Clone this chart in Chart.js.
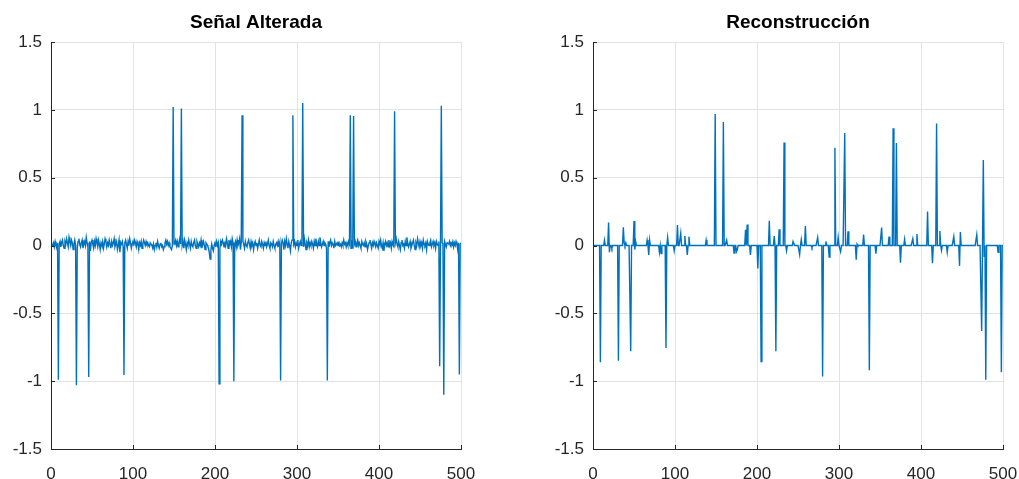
<!DOCTYPE html>
<html><head><meta charset="utf-8">
<script src="https://cdn.jsdelivr.net/npm/chart.js@4.4.1/dist/chart.umd.min.js"></script>
<style>
html,body{margin:0;padding:0;background:#fff;overflow:hidden;width:1019px;height:479px;}
canvas{position:absolute;left:0;top:0;}
</style>
</head><body>
<canvas id="c1" width="1060" height="479"></canvas>
<canvas id="c2" width="1060" height="479"></canvas>
<script>
// ---- data ----
const xTicks = [0, 100, 200, 300, 400, 500];
const yTicks = [1.5, 1, 0.5, 0, -0.5, -1, -1.5];
const yTickLabels = ["1.5", "1", "0.5", "0", "-0.5", "-1", "-1.5"];
const titles = ["Señal Alterada", "Reconstrucción"];

// left: small background noise, sample 1..500
const leftNoise = [
 0.01,0.00,0.02,-0.01,0.03,0.00,-0.02,0.02,0.00,0.01,0.03,-0.01,0.02,0.04,0.00,-0.02,0.03,0.01,0.05,0.02,-0.01,0.06,0.03,0.00,0.04,
 0.02,-0.03,0.01,0.04,0.00,0.00,-0.02,0.03,0.05,0.01,-0.01,0.02,0.04,-0.02,0.01,0.03,0.00,0.06,0.02,-0.01,0.00,0.03,-0.04,0.02,0.04,
 0.01,-0.02,0.03,0.00,0.05,0.02,-0.01,0.04,0.01,-0.03,0.02,0.00,0.03,-0.02,0.01,0.05,0.03,-0.01,0.02,0.00,0.04,0.01,-0.02,0.03,0.00,
 0.02,0.05,-0.01,0.01,0.03,-0.03,0.00,0.04,-0.05,0.02,0.01,0.03,-0.01,0.00,0.02,0.04,0.01,-0.02,0.03,0.00,0.05,0.02,-0.02,0.01,0.03,
 0.00,0.04,0.02,-0.01,0.03,0.01,-0.03,0.02,0.00,0.03,-0.02,0.01,0.04,0.02,0.00,0.03,0.01,0.02,0.00,-0.01,0.02,0.01,0.00,-0.02,0.01,
 -0.03,0.00,0.02,-0.01,0.03,0.00,-0.02,0.01,0.02,-0.01,0.00,-0.03,-0.01,0.02,0.04,0.01,0.03,0.00,0.02,-0.01,-0.02,-0.03,0.00,0.00,0.01,
 0.02,0.04,0.00,0.03,-0.01,0.02,0.05,0.01,0.00,0.00,0.03,-0.02,0.04,0.01,-0.03,0.02,0.00,0.04,0.01,-0.02,0.03,0.00,-0.01,0.02,0.04,
 0.00,-0.02,0.03,0.01,-0.01,0.02,0.00,0.04,-0.02,0.01,0.03,0.00,-0.03,0.02,0.01,0.00,-0.02,-0.05,-0.10,-0.03,0.01,-0.02,-0.04,0.00,0.02,
 -0.01,0.03,0.00,0.02,0.00,-0.02,0.03,0.01,0.04,0.02,-0.01,0.03,0.00,0.05,0.02,-0.02,0.04,0.01,0.03,-0.01,0.05,0.02,0.00,0.01,0.03,
 -0.01,0.04,0.00,0.02,0.05,-0.03,0.02,0.00,0.03,0.01,-0.02,0.03,0.00,-0.01,0.02,0.04,0.01,-0.02,0.03,0.00,0.02,-0.03,0.01,0.03,0.00,
 0.02,-0.02,0.01,0.04,0.00,-0.01,0.03,0.01,-0.02,0.02,0.00,0.03,-0.01,0.01,0.04,0.00,-0.02,0.02,0.01,-0.01,0.03,0.00,-0.02,0.01,0.02,
 0.00,0.03,-0.01,0.02,0.00,0.01,0.04,0.02,-0.03,0.03,0.00,0.05,0.01,-0.02,0.03,0.00,-0.04,0.02,0.04,0.00,0.01,0.03,-0.01,0.02,0.00,
 0.04,-0.02,0.01,0.03,0.00,0.02,0.00,-0.01,0.05,0.01,-0.03,0.02,0.00,0.04,-0.01,0.02,0.00,0.03,0.01,-0.02,0.03,0.00,0.05,0.01,-0.01,
 0.03,0.00,0.06,0.02,-0.01,0.01,0.03,0.00,0.02,0.01,-0.02,0.00,0.03,-0.01,0.02,0.04,0.00,0.02,0.01,-0.02,0.03,0.00,0.01,0.02,0.00,
 0.03,0.00,0.01,-0.01,0.02,0.00,0.04,0.01,0.02,-0.01,0.02,0.00,0.03,0.01,0.00,-0.02,0.02,0.00,0.00,0.01,0.03,-0.01,0.02,0.04,0.00,
 0.02,0.00,-0.02,0.03,0.01,0.00,0.02,-0.01,0.03,0.01,-0.03,0.00,0.02,0.04,0.01,-0.02,0.02,0.00,0.03,0.01,-0.01,0.02,0.00,-0.02,0.03,
 0.01,0.04,0.00,-0.02,0.02,-0.04,0.01,0.03,0.00,0.02,-0.01,0.04,0.00,0.02,-0.02,0.03,0.01,0.00,0.00,0.02,0.05,0.01,-0.01,0.03,0.00,
 -0.03,0.02,0.04,0.00,0.01,-0.02,0.03,0.00,0.06,0.02,-0.01,0.01,0.03,-0.02,0.00,0.02,0.04,0.00,-0.03,0.02,0.00,0.05,0.02,-0.01,0.03,
 0.00,0.02,-0.02,0.04,0.01,0.00,0.02,-0.03,0.03,0.01,0.00,0.02,0.04,-0.01,0.01,0.03,0.00,0.02,-0.02,0.03,0.01,0.00,0.03,0.00,0.00,
 0.00,0.02,0.01,0.00,0.03,0.01,-0.01,0.02,0.02,0.01,0.03,0.00,0.02,0.01,0.03,-0.01,0.02,0.00,0.03,0.01,-0.03,0.02,0.00,0.01,0.02
];
const leftSpikeIdx = [9, 31, 46, 89, 149, 159, 205, 223, 233, 280, 295, 307, 337, 365, 369, 419, 474, 476, 479, 498];
const leftSpikeVal = [-0.99, -1.03, -0.97, -0.955, 1.02, 1.01, -1.02, -1.0, 0.96, -0.995, 0.96, 1.05, -0.995, 0.96, 0.955, 0.99, -0.89, 1.03, -1.10, -0.95];

// right: sparse reconstruction (zero elsewhere)
const rightIdx = [9, 14, 19, 20, 23, 31, 37, 38, 40, 46, 50, 51, 52, 66, 68, 69, 81, 83, 89, 91, 99, 103, 107, 112, 115, 117, 138, 149, 159, 163, 172, 175, 176, 186, 188, 192, 201, 205, 215, 221, 223, 227, 233, 236, 244, 245, 252, 254, 259, 267, 274, 280, 284, 288, 295, 299, 302, 307, 311, 321, 322, 330, 337, 345, 352, 361, 366, 370, 375, 380, 390, 395, 408, 414, 419, 423, 425, 432, 440, 447, 448, 468, 474, 476, 477, 479, 494, 498];
const rightVal = [-0.86, 0.04, 0.17, -0.05, -0.02, -0.85, 0.135, 0.02, 0.02, -0.78, 0.18, -0.03, 0.03, 0.04, -0.07, 0.04, -0.05, -0.06, -0.755, 0.06, -0.04, 0.15, 0.09, 0.07, -0.07, 0.065, 0.04, 0.97, 0.91, 0.04, -0.055, -0.045, -0.03, 0.115, 0.155, -0.07, -0.17, -0.855, 0.183, 0.07, -0.78, 0.12, 0.76, -0.04, 0.03, 0.03, -0.067, 0.045, 0.143, -0.015, 0.06, -0.965, 0.03, -0.085, 0.72, 0.06, -0.045, 0.83, 0.105, -0.105, 0.01, 0.08, -0.92, -0.06, 0.133, 0.065, 0.865, 0.755, -0.127, 0.047, 0.05, 0.085, 0.25, -0.13, 0.90, 0.107, -0.037, -0.05, 0.065, -0.15, 0.10, 0.08, -0.63, 0.63, -0.08, -0.99, -0.05, -0.935];

// ---- build series ----
function leftSeries() {
  const pts = leftNoise.map((v, i) => ({x: i + 1, y: v}));
  leftSpikeIdx.forEach((k, j) => { pts[k - 1].y = leftSpikeVal[j]; });
  return pts;
}
function rightSeries() {
  const pts = leftNoise.map((v, i) => ({x: i + 1, y: 0}));
  rightIdx.forEach((k, j) => { pts[k - 1].y = rightVal[j]; });
  return pts;
}

const AXIS = '#262626';
const FONT = "'Liberation Sans', Arial, Helvetica, sans-serif";
const CW = 1060;

const decor = {
  id: 'decor',
  afterDraw(chart, args, opts) {
    const ctx = chart.ctx, a = chart.chartArea;
    const xs = chart.scales.x, ys = chart.scales.y;
    ctx.save();
    ctx.strokeStyle = AXIS; ctx.lineWidth = 1;
    ctx.beginPath();
    xTicks.forEach(t => { const px = Math.round(xs.getPixelForValue(t)) + 0.5; ctx.moveTo(px, a.bottom); ctx.lineTo(px, a.bottom - 4); });
    yTicks.forEach(t => { const py = Math.round(ys.getPixelForValue(t)) + 0.5; ctx.moveTo(a.left, py); ctx.lineTo(a.left + 4, py); });
    ctx.stroke();
    ctx.fillStyle = '#000';
    ctx.font = "bold 19px " + FONT;
    ctx.textAlign = 'center'; ctx.textBaseline = 'alphabetic';
    ctx.fillText(opts.text, (a.left + a.right) / 2, 28);
    ctx.restore();
  }
};

function makeChart(id, pts, title, left, right) {
  return new Chart(document.getElementById(id), {
    type: 'line',
    data: { datasets: [{ data: pts, borderColor: '#0072BD', borderWidth: 1.4, pointRadius: 0, tension: 0, fill: false }] },
    options: {
      responsive: false, animation: false, devicePixelRatio: 1,
      layout: { autoPadding: false, padding: { top: 42, right: CW - right, left: 0, bottom: 0 } },
      plugins: { legend: { display: false }, tooltip: { enabled: false }, decor: { text: title } },
      scales: {
        x: {
          type: 'linear', min: 0, max: 500,
          afterBuildTicks: s => { s.ticks = xTicks.map(v => ({value: v})); },
          afterFit: s => { s.height = 479 - 449; },
          grid: { color: '#e3e3e3', drawTicks: false, lineWidth: 1 },
          border: { color: AXIS, width: 1 },
          ticks: { color: AXIS, font: { size: 17, family: FONT }, padding: 15, maxRotation: 0 }
        },
        y: {
          min: -1.5, max: 1.5,
          afterBuildTicks: s => { s.ticks = yTicks.map(v => ({value: v})); },
          afterFit: s => { s.width = left; },
          grid: { color: '#e3e3e3', drawTicks: false, lineWidth: 1 },
          border: { color: AXIS, width: 1 },
          ticks: { color: AXIS, font: { size: 17, family: FONT }, padding: 9,
                   callback: (v) => { const k = yTicks.indexOf(v); return k >= 0 ? yTickLabels[k] : ''; } }
        }
      }
    },
    plugins: [decor]
  });
}

makeChart('c1', leftSeries(), titles[0], 51, 461);
makeChart('c2', rightSeries(), titles[1], 593, 1003);
</script>
</body></html>
